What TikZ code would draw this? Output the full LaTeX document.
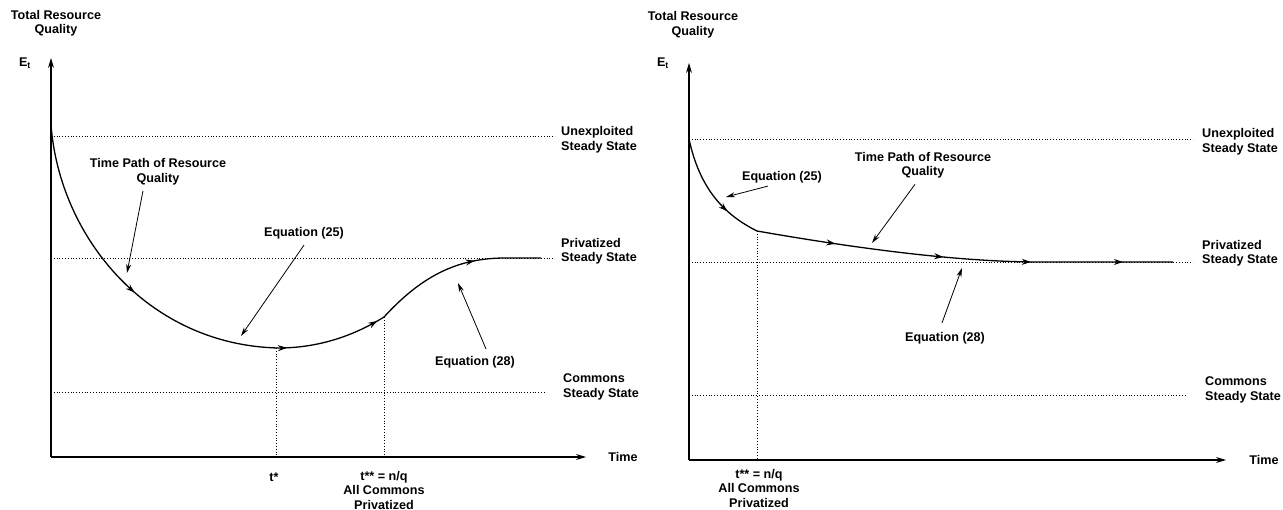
\documentclass[tikz,border=0pt]{standalone}
\usepackage{fontspec}
\setmainfont{Liberation Sans}
\usetikzlibrary{arrows.meta,decorations.markings}
\tikzset{
  lbl/.style={font=\bfseries\fontsize{12.6}{14.5}\selectfont, align=center, inner sep=0pt},
  ssl/.style={lbl, align=left, anchor=west},
  axis/.style={line width=1.1pt, -{Stealth[length=10pt,width=6pt]}},
  guide/.style={dotted, line width=0.8pt},
  timepath/.style={line width=1.3pt},
  note/.style={line width=0.8pt, -{Stealth[length=9pt,width=5pt]}},
  flow/.style={postaction={decorate, decoration={markings,
      mark=at position #1 with {\arrow{Stealth[length=9pt,width=6pt]}}}}}
}
\begin{document}
\begin{tikzpicture}[x=1pt,y=-1pt]
    \useasboundingbox (0,0) rectangle (1283,510);
    % left panel
    \coordinate (LOrigin)  at (51,457);
    \coordinate (LYAxisMax) at (51,58);
    \coordinate (LXAxisMax) at (586,457);
    \coordinate (LStart)   at (51,125);
    \coordinate (LMin)     at (278,348);
    \coordinate (LSwitch)  at (384,317);
    \coordinate (LEnd)     at (541,258);
    \node[lbl] (LTitle) at (56,23) {Total Resource\\Quality};
    \node[lbl] (LEt)    at (25,63) {E\textsubscript{t}};
    \node[lbl] (LTime)  at (623,457) {Time};
    \draw [axis] (LOrigin) -- (LYAxisMax);% y axis
    \draw [axis] (LOrigin) -- (LXAxisMax);% x axis
    \node[ssl] (LUnexploited) at (561,139.5) {Unexploited\\Steady State};
    \node[ssl] (LPrivatized)  at (561,251) {Privatized\\Steady State};
    \node[ssl] (LCommons)     at (563,387) {Commons\\Steady State};
    \draw [guide] (51,136) -- (555,136);
    \draw [guide] (51,258) -- (553,258);
    \draw [guide] (51,392) -- (545,392);
    \draw [timepath, flow=.55] (LStart) .. controls (60,240) and (150,345) .. (LMin);
    \draw [timepath, flow=.08, flow=.93] (LMin) .. controls (320,348) and (355,335) .. (LSwitch);
    \draw [timepath, flow=.62] (LSwitch) .. controls (420,278) and (455,258) .. (505,258) -- (LEnd);
    \draw [guide] (276,348) -- (276,457);
    \draw [guide] (LSwitch) -- (LSwitch |- LOrigin);
    \node[lbl] (LTStar) at (274,477) {t*};
    \node[lbl] (LTStarStar) at (384,490) {t** = n/q\\All Commons\\Privatized};
    \node[lbl] (LPath)  at (158,171.5) {Time Path of Resource\\Quality};
    \node[lbl] (LEq25)  at (304,233) {Equation (25)};
    \node[lbl] (LEq28)  at (475,362) {Equation (28)};
    \coordinate (LPathTip) at (127,273);
    \coordinate (LEq25Tip) at (241,336);
    \coordinate (LEq28Tip) at (458,283);
    \draw [note] ([xshift=-15pt,yshift=-6pt]LPath.south) -- (LPathTip);
    \draw [note] ([yshift=-6pt]LEq25.south) -- (LEq25Tip);
    \draw [note] ([xshift=11pt,yshift=7pt]LEq28.north) -- (LEq28Tip);
    % right panel
    \coordinate (ROrigin)  at (689,460);
    \coordinate (RYAxisMax) at (689,63);
    \coordinate (RXAxisMax) at (1226,460);
    \coordinate (RStart)   at (689,139);
    \coordinate (RSwitch)  at (757,231);
    \coordinate (REnd)     at (1173,262);
    \node[lbl] (RTitle) at (693,24.5) {Total Resource\\Quality};
    \node[lbl] (REt)    at (663,63) {E\textsubscript{t}};
    \node[lbl] (RTime)  at (1264,460) {Time};
    \draw [axis] (ROrigin) -- (RYAxisMax);% y axis
    \draw [axis] (ROrigin) -- (RXAxisMax);% x axis
    \node[ssl] (RUnexploited) at (1202,141.5) {Unexploited\\Steady State};
    \node[ssl] (RPrivatized)  at (1202,253) {Privatized\\Steady State};
    \node[ssl] (RCommons)     at (1205,390) {Commons\\Steady State};
    \draw [guide] (RStart) -- (1193,139);
    \draw [guide] (689,262) -- (1193,262);
    \draw [guide] (689,395) -- (1185,395);
    \draw [timepath, flow=.7] (RStart) .. controls (700,190) and (725,215) .. (RSwitch);
    \draw [timepath, flow=.19, flow=.45, flow=.66, flow=.88] (RSwitch) .. controls (860,249) and (960,262) .. (1040,262) -- (REnd);
    \draw [guide] (RSwitch) -- (RSwitch |- ROrigin);
    \node[lbl] (RTStarStar) at (759,488) {t** = n/q\\All Commons\\Privatized};
    \node[lbl] (REq25)  at (782,177) {Equation (25)};
    \node[lbl] (RPath)  at (923,165) {Time Path of Resource\\Quality};
    \node[lbl] (REq28)  at (945,338) {Equation (28)};
    \coordinate (REq25Tip) at (726,197);
    \coordinate (RPathTip) at (872,243);
    \coordinate (REq28Tip) at (962,268);
    \draw [note] ([xshift=-14pt,yshift=-3pt]REq25.south) -- (REq25Tip);
    \draw [note] ([xshift=-8pt,yshift=-6pt]RPath.south) -- (RPathTip);
    \draw [note] ([xshift=-3pt,yshift=9pt]REq28.north) -- (REq28Tip);
\end{tikzpicture}
\end{document}
